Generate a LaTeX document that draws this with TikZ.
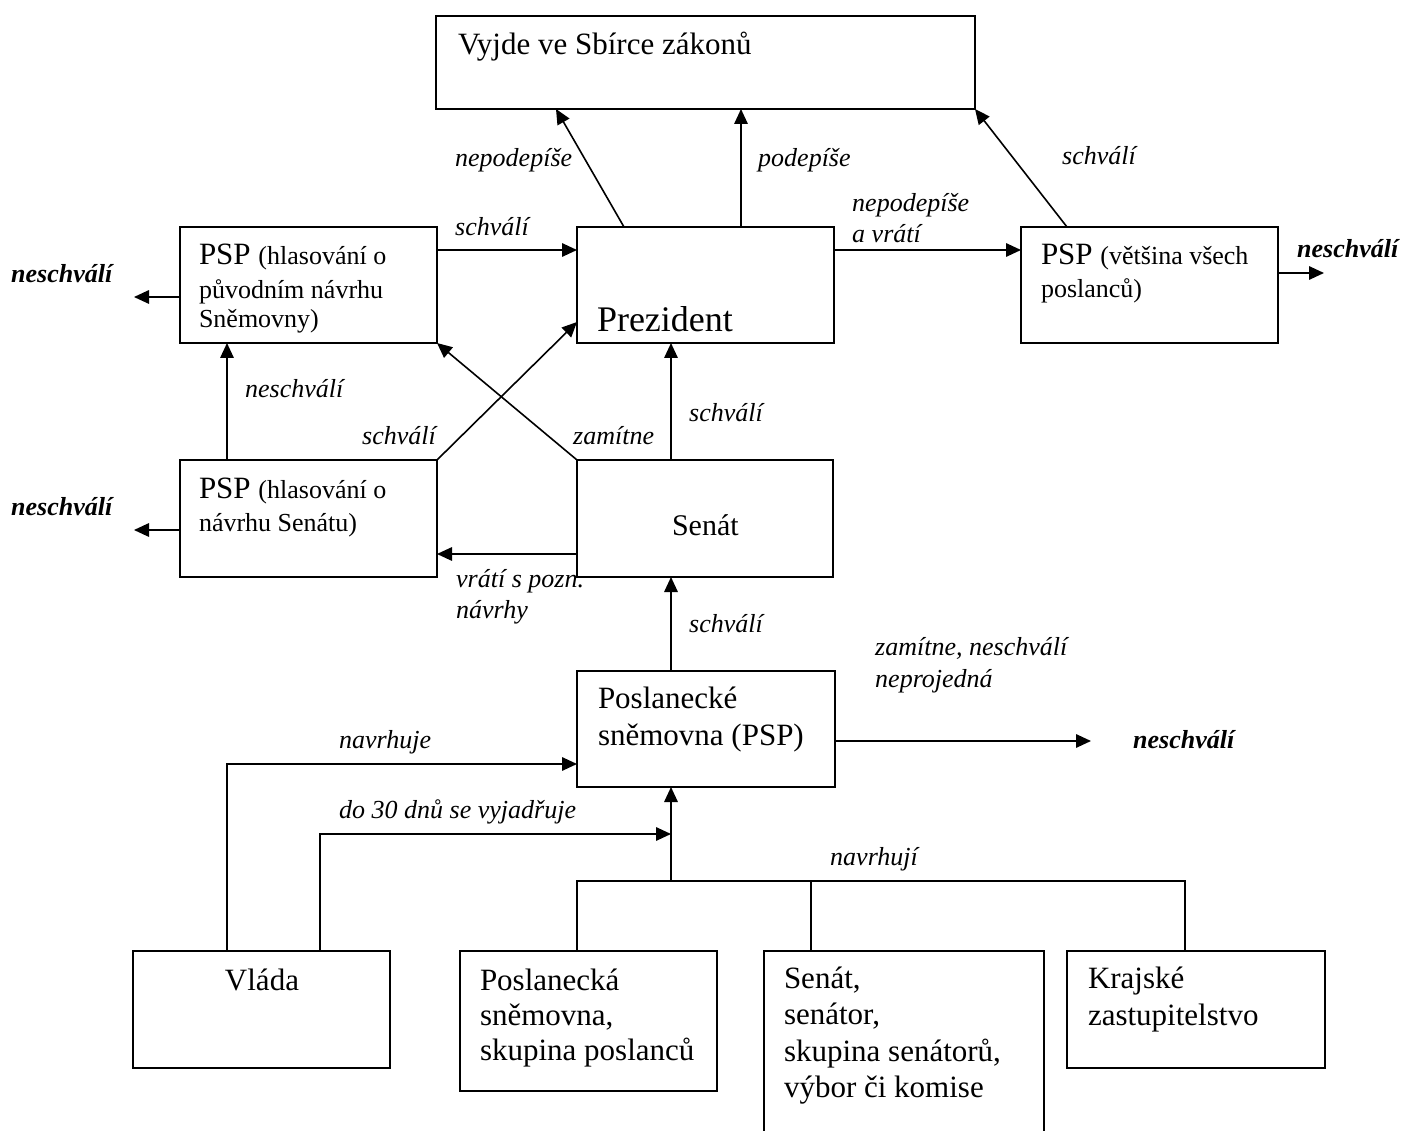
\documentclass[tikz,border=0pt]{standalone}
\usepackage{fontspec}
\setmainfont{Liberation Serif}
\usetikzlibrary{arrows.meta,calc}
\newcommand{\smtxt}{\fontsize{26}{30}\selectfont}
\tikzset{
 box/.style={draw, line width=2pt, inner sep=0pt, outer sep=0pt, anchor=north west},
 txt/.style={anchor=base west, inner sep=0pt, outer sep=0pt},
 lbl/.style={anchor=base west, inner sep=0pt, font=\fontsize{26}{31}\selectfont\itshape},
 blbl/.style={anchor=base west, inner sep=0pt, font=\fontsize{26}{31}\selectfont\bfseries\itshape},
 arr/.style={line width=1.6pt, -{Triangle[length=15pt,width=13.5pt]}},
 ln/.style={line width=1.6pt},
}
\begin{document}
\begin{tikzpicture}[x=1pt,y=-1pt]
\useasboundingbox (0,0) rectangle (1401,1131);
\clip (0,0) rectangle (1401,1131);
\fill[white] (0,0) rectangle (1401,1131);
% boxes
\node[box, minimum width=539pt, minimum height=93pt] (vyjde) at (436,16) {};
\node[box, minimum width=257pt, minimum height=116pt] (psp1) at (180,227) {};
\node[box, minimum width=257pt, minimum height=116pt] (prez) at (577,227) {};
\node[box, minimum width=257pt, minimum height=116pt] (psp3) at (1021,227) {};
\node[box, minimum width=257pt, minimum height=117pt] (psp2) at (180,460) {};
\node[box, minimum width=256pt, minimum height=117pt] (senat) at (577,460) {};
\node[box, minimum width=258pt, minimum height=116pt] (psp) at (577,671) {};
\node[box, minimum width=257pt, minimum height=117pt] (vlada) at (133,951) {};
\node[box, minimum width=257pt, minimum height=140pt] (pslb) at (460,951) {};
\node[box, minimum width=280pt, minimum height=220pt] (senb) at (764,951) {};
\node[box, minimum width=258pt, minimum height=117pt] (kraj) at (1067,951) {};
% box texts
\node[txt, font=\fontsize{31}{37}\selectfont] (vyjdet) at (458,55) {Vyjde ve Sbírce zákonů};
\node[txt, font=\fontsize{31}{29}\selectfont] (psp1t) at (199,265) {\begin{tabular}[t]{@{}l@{}}PSP {\smtxt(hlasování o}\\[5pt]{\smtxt původním návrhu}\\{\smtxt Sněmovny)}\end{tabular}};
\node[txt, font=\fontsize{36}{40}\selectfont] (prezt) at (597,332) {Prezident};
\node[txt, font=\fontsize{31}{33}\selectfont] (psp3t) at (1041,265) {\begin{tabular}[t]{@{}l@{}}PSP {\smtxt(většina všech}\\{\smtxt poslanců)}\end{tabular}};
\node[txt, font=\fontsize{31}{33}\selectfont] (psp2t) at (199,498) {\begin{tabular}[t]{@{}l@{}}PSP {\smtxt(hlasování o}\\{\smtxt návrhu Senátu)}\end{tabular}};
\node[txt, font=\fontsize{30}{36}\selectfont] (senatt) at (672,536) {Senát};
\node[txt, font=\fontsize{31}{37}\selectfont] (pspt) at (598,708) {\begin{tabular}[t]{@{}l@{}}Poslanecké\\sněmovna (PSP)\end{tabular}};
\node[anchor=base, inner sep=0pt, font=\fontsize{31}{36}\selectfont] (vladat) at (262,990) {Vláda};
\node[txt, font=\fontsize{31}{35}\selectfont] (pslbt) at (480,990) {\begin{tabular}[t]{@{}l@{}}Poslanecká\\sněmovna,\\skupina poslanců\end{tabular}};
\node[txt, font=\fontsize{31}{36.5}\selectfont] (senbt) at (784,988) {\begin{tabular}[t]{@{}l@{}}Senát,\\senátor,\\skupina senátorů,\\výbor či komise\end{tabular}};
\node[txt, font=\fontsize{31}{37}\selectfont] (krajt) at (1088,988) {\begin{tabular}[t]{@{}l@{}}Krajské\\zastupitelstvo\end{tabular}};
% helper coordinates
\coordinate (hA) at (0,250);
\coordinate (L1) at (134,297);
\coordinate (R3) at (1324,273);
\coordinate (xA) at (227,0);
\coordinate (xC) at (671,0);
\coordinate (hB) at (0,554);
\coordinate (L2) at (134,530);
\coordinate (R4) at (1091,741);
\coordinate (hN) at (0,764);
\coordinate (xV2) at (320,0);
\coordinate (hD) at (0,834);
\coordinate (hE) at (0,881);
\coordinate (xP) at (577,0);
\coordinate (xS) at (811,0);
\coordinate (xK) at (1185,0);
\coordinate (pA) at ($(prez.north west)+(47,0)$);
\coordinate (vA) at ($(vyjde.south west)+(120,0)$);
\coordinate (pB) at ($(prez.north west)+(164,0)$);
\coordinate (pC) at ($(psp3.north west)+(46,0)$);
\coordinate (pD) at ($(prez.north west)+(0,95)$);
% connectors
\draw[arr] (pA) -- (vA);
\draw[arr] (pB) -- (pB |- vyjde.south);
\draw[arr] (pC) -- (vyjde.south east);
\draw[arr] (psp1.east |- hA) -- (prez.west |- hA);
\draw[arr] (prez.east |- hA) -- (psp3.west |- hA);
\draw[arr] (psp1.west |- L1) -- (L1);
\draw[arr] (psp3.east |- R3) -- (R3);
\draw[arr] (psp2.north -| xA) -- (psp1.south -| xA);
\draw[arr] (psp2.north east) -- (pD);
\draw[arr] (senat.north west) -- (psp1.south east);
\draw[arr] (senat.north -| xC) -- (prez.south -| xC);
\draw[arr] (senat.west |- hB) -- (psp2.east |- hB);
\draw[arr] (psp2.west |- L2) -- (L2);
\draw[arr] (psp.north -| xC) -- (senat.south -| xC);
\draw[arr] (psp.east |- R4) -- (R4);
\draw[arr] (vlada.north -| xA) -- (xA |- hN) -- (psp.west |- hN);
\draw[arr] (vlada.north -| xV2) -- (xV2 |- hD) -- (xC |- hD);
\draw[ln] (pslb.north -| xP) -- (xP |- hE) -- (xK |- hE) -- (kraj.north -| xK);
\draw[ln] (xS |- hE) -- (senb.north -| xS);
\draw[arr] (xC |- hE) -- (psp.south -| xC);
% labels
\node[lbl] (l1) at (455,167) {nepodepíše};
\node[lbl] (l2) at (758,167) {podepíše};
\node[lbl] (l3) at (1062,165) {schválí};
\node[lbl] (l4) at (455,236) {schválí};
\node[lbl] (l5) at (852,212) {\begin{tabular}[t]{@{}l@{}}nepodepíše\\a vrátí\end{tabular}};
\node[blbl] (l6) at (11,283) {neschválí};
\node[blbl] (l7) at (1297,258) {neschválí};
\node[lbl] (l8) at (245,398) {neschválí};
\node[lbl] (l9) at (362,445) {schválí};
\node[lbl] (l10) at (573,445) {zamítne};
\node[lbl] (l11) at (689,422) {schválí};
\node[blbl] (l12) at (11,515) {neschválí};
\node[lbl] (l13) at (456,587) {\begin{tabular}[t]{@{}l@{}}vrátí s pozn.\\návrhy\end{tabular}};
\node[lbl] (l14) at (689,632) {schválí};
\node[lbl, font=\fontsize{26}{32}\selectfont\itshape] (l15) at (875,655) {\begin{tabular}[t]{@{}l@{}}zamítne, neschválí\\neprojedná\end{tabular}};
\node[blbl] (l16) at (1133,748) {neschválí};
\node[lbl] (l17) at (339,748) {navrhuje};
\node[lbl] (l18) at (339,818) {do 30 dnů se vyjadřuje};
\node[lbl] (l19) at (830,865) {navrhují};
\end{tikzpicture}
\end{document}
